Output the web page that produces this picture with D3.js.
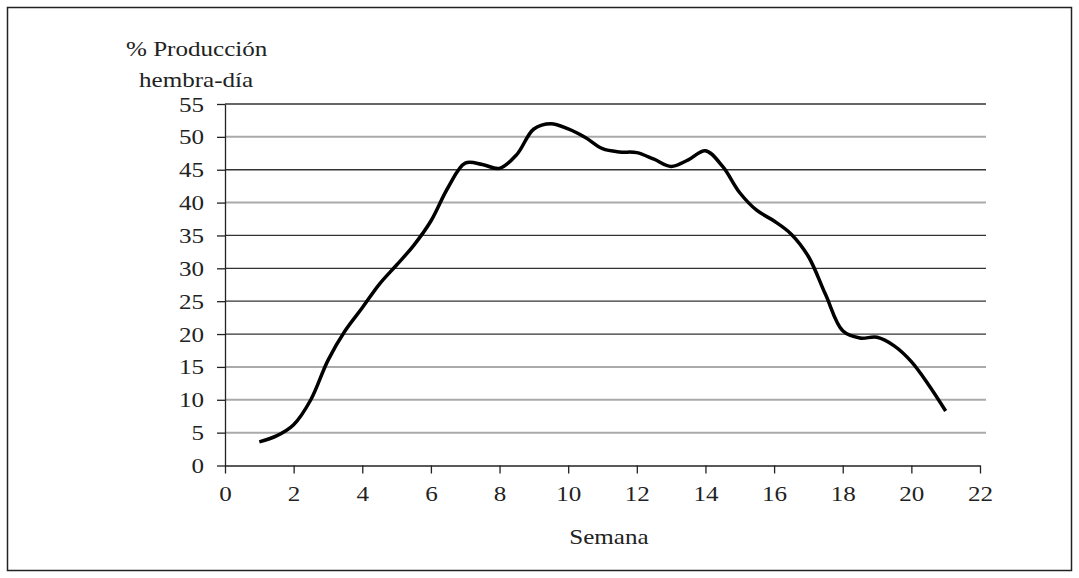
<!DOCTYPE html>
<html><head><meta charset="utf-8">
<script src="https://cdn.jsdelivr.net/npm/d3@7/dist/d3.min.js"></script>
<style>body{margin:0;background:#fff}svg{display:block}text{font-family:"Liberation Serif","Times New Roman",serif;fill:#222}</style>
</head><body><svg id="c" width="1079" height="578"></svg>
<script>
const weeks = [1,1.5,2,2.5,3,3.5,4,4.5,5,5.5,6,6.5,7,7.5,8,8.5,9,9.5,10,10.5,11,11.5,12,12.5,13,13.5,14,14.5,15,15.5,16,16.5,17,17.5,18,18.5,19,19.5,20,20.5,21];
const production = [3.6,4.5,6.2,10.0,16.0,20.5,24.0,27.6,30.5,33.5,37.2,42.3,46.0,45.8,45.2,47.3,51.2,52.0,51.2,49.9,48.2,47.7,47.6,46.6,45.5,46.5,47.9,45.5,41.5,38.8,37.2,35.2,31.8,26.0,20.5,19.4,19.5,18.2,15.8,12.3,8.3];
const xTicks = [0,2,4,6,8,10,12,14,16,18,20,22];
const yTicks = [0,5,10,15,20,25,30,35,40,45,50,55];
const yTitle = ["% Producción","hembra-día"];
const xTitle = "Semana";

const svg = d3.select("#c");
svg.append("rect").attr("x",7.5).attr("y",7.5).attr("width",1064).attr("height",563)
  .attr("fill","none").attr("stroke","#222").attr("stroke-width",1.5);

const x = d3.scaleLinear().domain([0,22]).range([225,980]);
const y = d3.scaleLinear().domain([0,55]).range([465.5,104]);
const lightGrid = new Set([50,40,15,10,5]);

svg.append("g").selectAll("line").data(yTicks.filter(d=>d>0)).join("line")
  .attr("x1",x(0)).attr("x2",986).attr("y1",d=>y(d)).attr("y2",d=>y(d))
  .attr("stroke",d=>lightGrid.has(d)?"#aaa":"#333")
  .attr("stroke-width",d=>lightGrid.has(d)?2:1.3);

const fs = 22;
const yAxis = d3.axisLeft(y).tickValues(yTicks).tickSize(8).tickPadding(13).tickSizeOuter(0);
const gy = svg.append("g").attr("transform",`translate(${x(0)},0)`).call(yAxis);
gy.select(".domain").attr("stroke","#222").attr("stroke-width",1.3);
gy.selectAll(".tick line").attr("stroke","#222").attr("stroke-width",1.3);
gy.selectAll(".tick text").attr("font-size",fs).attr("font-family","Liberation Serif").attr("fill","#222");

const xAxis = d3.axisBottom(x).tickValues(xTicks).tickSize(8).tickPadding(12).tickSizeOuter(0);
const gx = svg.append("g").attr("transform",`translate(0,${y(0)})`).call(xAxis);
gx.select(".domain").attr("stroke","#222").attr("stroke-width",1.3);
gx.selectAll(".tick line").attr("stroke","#222").attr("stroke-width",1.3);
gx.selectAll(".tick text").attr("font-size",fs).attr("font-family","Liberation Serif").attr("fill","#222");

const line = d3.line().x((d,i)=>x(weeks[i])).y(d=>y(d)).curve(d3.curveCatmullRom.alpha(0.5));
svg.append("path").datum(production).attr("d",line)
  .attr("fill","none").attr("stroke","#000").attr("stroke-width",3.5)
  .attr("stroke-linejoin","round").attr("stroke-linecap","butt");

svg.append("text").attr("x",126).attr("y",56).attr("font-size",fs).text(yTitle[0]);
svg.append("text").attr("x",139).attr("y",87).attr("font-size",fs).text(yTitle[1]);
svg.append("text").attr("x",609).attr("y",544).attr("text-anchor","middle").attr("font-size",fs).text(xTitle);

// horizontal stretch of glyphs to match the reference's wide type
svg.selectAll("text").each(function(){
  const w = this.getComputedTextLength();
  d3.select(this).attr("textLength", w*1.14).attr("lengthAdjust","spacingAndGlyphs");
});
</script></body></html>
